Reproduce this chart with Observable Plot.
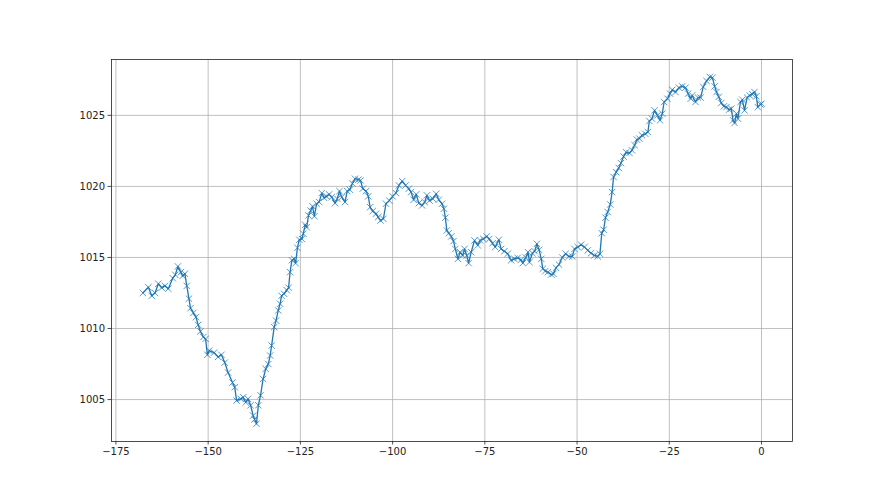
<!DOCTYPE html>
<html>
<head>
<meta charset="utf-8">
<script src="https://cdn.jsdelivr.net/npm/d3@7"></script>
<script src="https://cdn.jsdelivr.net/npm/@observablehq/plot@0.6"></script>
<style>
  html, body { margin: 0; padding: 0; background: #fff; }
  #chart svg { display: block; }
</style>
</head>
<body>
<div id="chart"></div>
<script>
// Time offsets (x) and pressure readings (y)
const hours = [
  -167.7,-166.2,-165.3,-164.4,-163.5,-162.6,-161.7,-160.8,-159.6,-158.9,-158.2,-157.4,-156.9,-156.3,-155.8,-155.2,-154.8,-154.0,-153.3,-152.7,
  -152.1,-151.3,-150.7,-150.2,-149.7,-148.4,-147.3,-146.4,-145.5,-144.6,-143.4,-142.8,-142.3,-141.2,-140.5,-139.8,-139.2,-138.5,-137.8,-137.4,
  -136.9,-136.4,-135.8,-135.1,-134.4,-133.7,-133.2,-132.8,-132.1,-131.6,-131.0,-130.5,-130.1,-129.4,-128.7,-128.2,-127.8,-127.3,-126.7,-126.3,
  -125.8,-125.3,-124.6,-124.2,-123.7,-123.3,-122.8,-122.2,-121.7,-121.2,-120.6,-119.9,-119.2,-118.6,-117.9,-117.2,-116.5,-115.6,-115.0,-114.4,
  -113.8,-112.9,-112.3,-111.6,-110.9,-110.2,-109.3,-108.7,-108.1,-107.2,-106.6,-106.1,-105.4,-104.5,-103.9,-103.3,-102.5,-101.8,-100.9,-100.0,
  -99.1,-98.3,-97.4,-96.5,-95.6,-95.0,-94.3,-93.6,-92.9,-92.0,-91.3,-90.7,-90.0,-89.1,-88.2,-87.5,-86.6,-86.1,-85.7,-85.3,
  -84.8,-84.1,-83.5,-83.0,-82.3,-81.7,-81.0,-80.5,-79.9,-79.4,-78.7,-77.8,-76.9,-76.3,-75.4,-74.5,-73.8,-72.9,-72.2,-71.2,
  -70.6,-69.7,-68.8,-67.9,-67.0,-66.1,-65.2,-64.7,-63.9,-63.3,-62.9,-62.1,-61.5,-60.9,-60.3,-59.7,-59.3,-58.6,-57.9,-57.0,
  -56.4,-55.7,-54.9,-54.0,-53.1,-52.2,-51.3,-50.7,-49.8,-48.9,-48.0,-47.1,-46.2,-45.3,-44.4,-43.8,-43.3,-42.8,-42.3,-41.7,
  -41.0,-40.5,-40.1,-39.4,-38.7,-38.1,-37.4,-36.7,-35.8,-35.1,-34.4,-33.8,-33.1,-32.4,-31.5,-30.8,-30.4,-29.7,-29.0,-28.2,
  -27.5,-26.9,-26.4,-25.5,-24.8,-24.2,-23.3,-22.4,-21.5,-20.6,-19.9,-19.2,-18.8,-17.9,-17.2,-16.5,-15.8,-14.9,-14.0,-13.3,
  -12.7,-12.2,-11.6,-10.9,-10.2,-9.5,-8.8,-8.2,-7.7,-7.3,-6.8,-6.4,-5.7,-5.2,-4.6,-3.9,-3.2,-2.5,-1.9,-1.4,
  -1.0,-0.3,0.0
];
const pressure = [
  1012.50,1012.90,1012.30,1012.50,1013.15,1012.87,1013.00,1012.80,1013.54,1013.78,1014.37,1013.97,1013.70,1013.85,1013.00,1012.10,1011.43,1011.10,1010.80,1010.26,
  1009.80,1009.40,1009.27,1008.15,1008.45,1008.30,1008.00,1008.15,1007.60,1006.90,1006.20,1005.87,1004.93,1005.05,1005.16,1004.80,1005.05,1004.60,1003.87,1003.60,
  1003.30,1004.60,1005.30,1006.45,1007.16,1007.50,1008.10,1008.80,1010.10,1010.56,1011.27,1011.74,1012.30,1012.44,1012.70,1012.87,1013.96,1014.80,1014.90,1014.60,
  1015.68,1016.25,1016.30,1016.67,1017.30,1017.13,1017.96,1018.30,1018.60,1017.90,1018.78,1018.90,1019.53,1019.20,1019.30,1019.44,1019.25,1018.82,1019.13,1019.67,
  1019.25,1018.90,1019.67,1019.77,1020.20,1020.54,1020.47,1020.42,1019.84,1019.67,1019.30,1018.54,1018.26,1018.08,1017.84,1017.60,1017.72,1018.78,1019.00,1019.30,
  1019.53,1020.07,1020.37,1020.07,1019.84,1019.60,1019.06,1019.44,1018.82,1018.66,1018.90,1019.37,1019.00,1019.13,1019.48,1019.06,1018.78,1018.43,1017.80,1016.90,
  1016.71,1016.48,1016.15,1015.60,1014.90,1015.37,1015.14,1015.60,1015.14,1014.60,1015.37,1016.20,1015.85,1016.20,1016.30,1016.48,1016.30,1016.00,1015.73,1016.25,
  1015.60,1015.44,1015.26,1014.80,1014.90,1014.97,1014.84,1014.60,1015.00,1015.37,1014.67,1015.30,1015.44,1015.96,1015.54,1014.90,1014.20,1014.04,1013.96,1013.80,
  1013.85,1014.27,1014.50,1015.00,1015.26,1015.07,1015.07,1015.60,1015.73,1015.90,1015.73,1015.50,1015.30,1015.14,1015.07,1015.26,1016.71,1016.95,1017.80,1018.20,
  1018.73,1019.60,1020.66,1021.00,1021.30,1021.64,1022.10,1022.40,1022.35,1022.54,1022.90,1023.30,1023.36,1023.60,1023.70,1023.82,1024.60,1024.77,1025.35,1025.00,
  1024.65,1025.12,1025.94,1026.17,1026.53,1026.80,1026.64,1026.95,1027.04,1026.95,1026.53,1026.17,1026.40,1025.94,1026.25,1026.25,1027.00,1027.42,1027.70,1027.65,
  1027.04,1026.64,1026.30,1025.87,1025.63,1025.58,1025.40,1025.47,1024.65,1024.46,1025.12,1024.77,1025.94,1026.10,1025.35,1026.25,1026.40,1026.48,1026.64,1026.34,
  1025.58,1025.77,1025.82
];
const xTicks = [-175, -150, -125, -100, -75, -50, -25, 0];
const yTicks = [1005, 1010, 1015, 1020, 1025];

const data = hours.map((h, i) => ({h, p: pressure[i]}));
const blue = "#1f77b4";

const chart = Plot.plot({
  width: 880,
  height: 495,
  marginLeft: 111,
  marginRight: 88,
  marginTop: 59,
  marginBottom: 54,
  style: {fontFamily: "DejaVu Sans", fontSize: "10px", color: "#000", background: "#fff"},
  x: {domain: [-176.2, 8.4], ticks: xTicks, label: null},
  y: {domain: [1002.05, 1028.93], ticks: yTicks, label: null},
  marks: [
    Plot.gridX(xTicks, {stroke: "#b0b0b0", strokeOpacity: 1, strokeWidth: 0.8}),
    Plot.gridY(yTicks, {stroke: "#b0b0b0", strokeOpacity: 1, strokeWidth: 0.8}),
    Plot.line(data, {x: "h", y: "p", stroke: blue, strokeWidth: 1.3}),
    Plot.dot(data, {x: "h", y: "p", symbol: "times", r: 3, stroke: blue, strokeWidth: 1, strokeOpacity: 0.75}),
    Plot.frame({stroke: "#222", strokeWidth: 0.8}),
    Plot.axisX(xTicks, {tickSize: 3.5, tickPadding: 3, stroke: "#222", fill: "#222", strokeWidth: 0.8, label: null}),
    Plot.axisY(yTicks, {tickSize: 3.5, tickPadding: 3, stroke: "#222", fill: "#222", strokeWidth: 0.8, label: null, tickFormat: d => String(d)})
  ]
});
document.getElementById("chart").appendChild(chart);
</script>
</body>
</html>
